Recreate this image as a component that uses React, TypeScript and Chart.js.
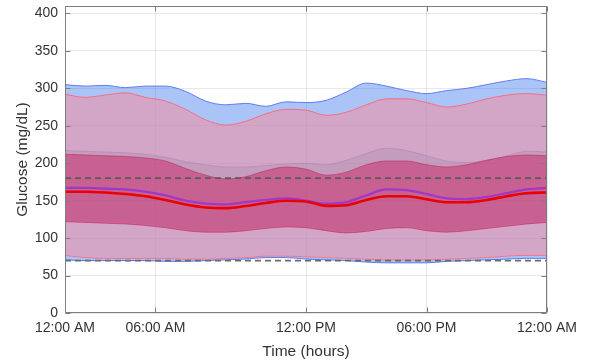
import React, { useEffect, useRef } from "react";
import { Chart, registerables } from "chart.js";

Chart.register(...registerables);

// Time of day in hours
const hours = [0, 1, 2, 3, 4, 5, 6, 7, 8, 9, 10, 11, 12, 13, 14, 15, 16, 17, 18, 19, 20, 21, 22, 23, 24];

// Blue group percentiles (mg/dL)
const blueP95 = [305, 303, 304, 301, 303, 303, 296, 283, 278, 280, 276, 282, 281, 284, 295, 307, 303, 297, 293, 297, 300, 305, 310, 313, 308];
const blueP75 = [217, 216, 215, 214, 212, 208, 202, 198, 195, 195, 197, 199, 200, 198, 204, 213, 220, 217, 210, 203, 201, 204, 210, 216, 215];
const blueMedian = [167, 167, 166, 165, 162, 157, 150, 146, 145, 148, 151, 153, 150, 146, 148, 157, 165, 164, 159, 153, 152, 155, 160, 165, 167];
const blueP25 = [124, 123, 122, 121, 119, 116, 112, 110, 110, 112, 115, 117, 116, 112, 109, 111, 115, 116, 112, 110, 112, 115, 118, 121, 123];
const blueP5 = [71, 70, 70, 70, 70, 69, 69, 70, 71, 72, 74, 74, 72, 71, 70, 68, 67, 67, 67, 69, 70, 71, 72, 73, 73];

// Red group percentiles (mg/dL)
const redP95 = [292, 288, 291, 294, 288, 283, 272, 258, 251, 256, 266, 272, 271, 264, 268, 278, 286, 286, 281, 275, 279, 286, 291, 293, 291];
const redP75 = [212, 211, 210, 209, 207, 203, 193, 184, 179, 182, 190, 195, 192, 184, 188, 198, 203, 203, 198, 195, 198, 204, 209, 211, 210];
const redMedian = [162, 162, 161, 159, 156, 151, 145, 141, 140, 143, 147, 150, 149, 143, 144, 151, 156, 156, 152, 148, 148, 151, 156, 160, 161];
const redP25 = [122, 121, 120, 119, 117, 114, 110, 108, 108, 110, 113, 115, 114, 110, 107, 109, 113, 114, 110, 108, 110, 113, 116, 119, 121];
const redP5 = [77, 74, 73, 73, 73, 73, 72, 72, 73, 74, 76, 76, 75, 74, 73, 72, 71, 71, 71, 72, 73, 74, 76, 77, 77];

// Target range thresholds
const thresholdHigh = 180;
const thresholdLow = 70;

// Axes
const yTickValues = [0, 50, 100, 150, 200, 250, 300, 350, 400];
const xTickValues = [0, 4.5, 12, 18, 24];
const xTickLabels = ["12:00 AM", "06:00 AM", "12:00 PM", "06:00 PM", "12:00 AM"];

const pts = (arr: number[]) => arr.map((y, i) => ({ x: hours[i], y }));

const FONT = "'Liberation Sans', Arial, Helvetica, sans-serif";
const TEXT = "#333333";

const boxPlugin = {
  id: "boxTicks",
  afterDraw(chart: any) {
    const { ctx, chartArea: a, scales } = chart;
    ctx.save();
    ctx.strokeStyle = "#7d7d7d";
    ctx.lineWidth = 1;
    const L = Math.round(a.left) + 0.5;
    const R = Math.round(a.right) - 0.5;
    const T = Math.round(a.top) + 0.5;
    const B = Math.round(a.bottom) - 0.5;
    ctx.beginPath();
    ctx.rect(L, T, R - L, B - T);
    const tl = 5;
    yTickValues.forEach((v) => {
      const py = Math.round(scales.y.getPixelForValue(v)) + 0.5;
      ctx.moveTo(L, py);
      ctx.lineTo(L + tl, py);
      ctx.moveTo(R, py);
      ctx.lineTo(R - tl, py);
    });
    xTickValues.forEach((v) => {
      const px = Math.round(scales.x.getPixelForValue(v)) + 0.5;
      ctx.moveTo(px, B);
      ctx.lineTo(px, B - tl);
      ctx.moveTo(px, T);
      ctx.lineTo(px, T + tl);
    });
    ctx.stroke();
    ctx.restore();
  },
};

export default function App() {
  const ref = useRef<HTMLCanvasElement | null>(null);

  useEffect(() => {
    if (!ref.current) return;
    const base = {
      pointRadius: 0,
      pointHoverRadius: 0,
      cubicInterpolationMode: "monotone" as const,
    };
    const chart = new Chart(ref.current, {
      type: "line",
      data: {
        datasets: [
          // 0,1 blue outer band
          { ...base, data: pts(blueP95), borderColor: "rgb(95,125,245)", borderWidth: 1, backgroundColor: "rgba(43,108,238,0.4)", fill: 1, order: 10 },
          { ...base, data: pts(blueP5), borderColor: "rgb(95,125,245)", borderWidth: 1, fill: false, order: 10 },
          // 2,3 red outer band
          { ...base, data: pts(redP95), borderColor: "rgb(245,110,130)", borderWidth: 1, backgroundColor: "rgba(254,136,152,0.5)", fill: 3, order: 9 },
          { ...base, data: pts(redP5), borderColor: "rgb(245,110,130)", borderWidth: 1, fill: false, order: 9 },
          // 4,5 blue inner band
          { ...base, data: pts(blueP75), borderColor: "rgba(150,110,160,0.3)", borderWidth: 1, backgroundColor: "rgba(120,105,145,0.17)", fill: 5, order: 8 },
          { ...base, data: pts(blueP25), borderColor: "rgba(150,110,160,0.0)", borderWidth: 1, fill: false, order: 8 },
          // 6,7 red inner band
          { ...base, data: pts(redP75), borderColor: "rgba(185,45,95,0.6)", borderWidth: 1, backgroundColor: "rgba(202,38,100,0.5)", fill: 7, order: 7 },
          { ...base, data: pts(redP25), borderColor: "rgba(185,45,95,0.6)", borderWidth: 1, fill: false, order: 7 },
          // 8,9 red band vertical edges
          { ...base, data: [{ x: hours[0], y: redP5[0] }, { x: hours[0], y: redP95[0] }], borderColor: "rgb(245,110,130)", borderWidth: 1.5, fill: false, order: 6 },
          { ...base, data: [{ x: hours[hours.length - 1], y: redP5[redP5.length - 1] }, { x: hours[hours.length - 1], y: redP95[redP95.length - 1] }], borderColor: "rgb(245,110,130)", borderWidth: 1.5, fill: false, order: 6 },
          // 10,11 thresholds
          { ...base, data: [{ x: hours[0], y: thresholdHigh }, { x: hours[hours.length - 1], y: thresholdHigh }], borderColor: "#5a5a5a", borderWidth: 1.8, borderDash: [6, 4], fill: false, order: 3 },
          { ...base, data: [{ x: hours[0], y: thresholdLow }, { x: hours[hours.length - 1], y: thresholdLow }], borderColor: "#6a6a6a", borderWidth: 1.8, borderDash: [6, 4], fill: false, order: 3 },
          // 12,13 medians
          { ...base, data: pts(blueMedian), borderColor: "rgb(160,55,200)", borderWidth: 2.2, fill: false, order: 2 },
          { ...base, data: pts(redMedian), borderColor: "rgb(235,0,0)", borderWidth: 2.6, fill: false, order: 1 },
        ],
      },
      options: {
        responsive: false,
        animation: false,
        events: [],
        layout: { padding: { top: 6, right: 45, left: 0, bottom: 0 } },
        plugins: {
          legend: { display: false },
          tooltip: { enabled: false },
          filler: { propagate: false },
        },
        scales: {
          x: {
            type: "linear",
            min: 0,
            max: 24,
            afterBuildTicks: (scale: any) => {
              scale.ticks = xTickValues.map((v) => ({ value: v }));
            },
            afterFit: (scale: any) => {
              scale.height = 49;
              scale.paddingLeft = 0;
              scale.paddingRight = 0;
            },
            ticks: {
              autoSkip: false,
              maxRotation: 0,
              padding: 7,
              color: TEXT,
              font: { family: FONT, size: 14 },
              callback: (_v: any, i: number) => xTickLabels[i],
            },
            grid: { color: "rgba(0,0,0,0.09)", drawTicks: false },
            border: { display: false },
            title: {
              display: true,
              text: "Time (hours)",
              color: TEXT,
              font: { family: FONT, size: 15.5 },
              padding: { top: 0, bottom: 1 },
            },
          },
          y: {
            type: "linear",
            min: 0,
            max: 410,
            afterBuildTicks: (scale: any) => {
              scale.ticks = yTickValues.map((v) => ({ value: v }));
            },
            afterFit: (scale: any) => {
              scale.width = 65;
              scale.paddingTop = 0;
              scale.paddingBottom = 0;
            },
            ticks: {
              padding: 7,
              color: TEXT,
              font: { family: FONT, size: 14 },
              callback: (v: any) => String(v),
            },
            grid: { color: "rgba(0,0,0,0.09)", drawTicks: false },
            border: { display: false },
            title: {
              display: true,
              text: "Glucose (mg/dL)",
              color: TEXT,
              font: { family: FONT, size: 15.5 },
              padding: { top: 13, bottom: 0 },
            },
          },
        },
      },
      plugins: [boxPlugin],
    } as any);
    return () => chart.destroy();
  }, []);

  return (
    <div style={{ position: "absolute", left: 0, top: 0, width: 592, height: 362, background: "#fff" }}>
      <canvas ref={ref} width={592} height={362} style={{ display: "block" }} />
    </div>
  );
}
